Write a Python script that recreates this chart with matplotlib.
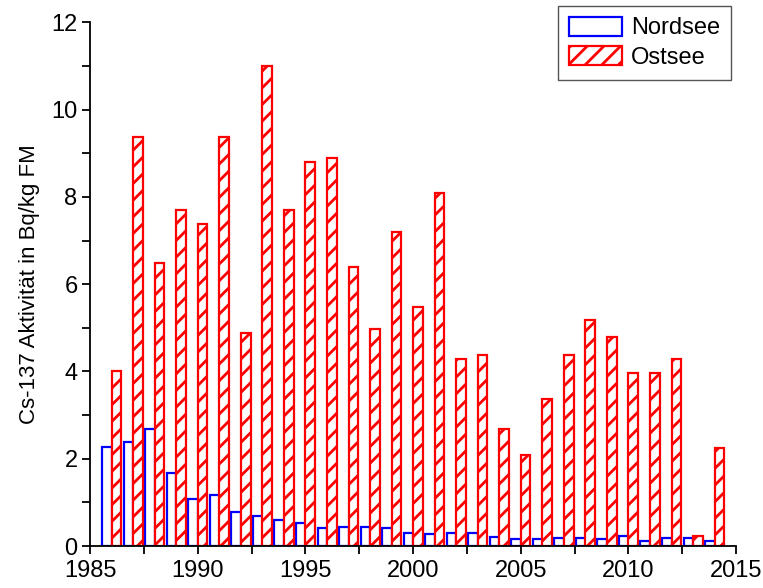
import numpy as np
import matplotlib
matplotlib.use('Agg')
import matplotlib.pyplot as plt

plt.rcParams['font.family'] = ['Liberation Sans', 'DejaVu Sans']
plt.rcParams['hatch.linewidth'] = 2.0

years = np.arange(1986, 2015)
nordsee = [2.27, 2.38, 2.68, 1.67, 1.08, 1.17, 0.78, 0.69, 0.59, 0.53,
           0.41, 0.43, 0.43, 0.41, 0.30, 0.27, 0.29, 0.29, 0.20, 0.15,
           0.15, 0.18, 0.18, 0.15, 0.23, 0.11, 0.19, 0.18, 0.12]
ostsee = [4.0, 9.38, 6.48, 7.69, 7.39, 9.38, 4.89, 11.0, 7.69, 8.79,
          8.88, 6.39, 4.97, 7.19, 5.47, 8.1, 4.28, 4.37, 2.68, 2.08,
          3.38, 4.37, 5.18, 4.78, 3.97, 3.97, 4.28, 0.24, 2.25]

fig = plt.figure(figsize=(7.63, 5.88), dpi=100)
ax = fig.add_axes([0.118, 0.0714, 0.8466, 0.8906])

w = 0.45
ax.bar(years - 0.21, nordsee, width=w, facecolor='white', edgecolor='#0000ff',
       linewidth=1.6, label='Nordsee')
ax.bar(years + 0.23, ostsee, width=w, facecolor='white', edgecolor='#ff0000',
       linewidth=1.6, hatch='//', label='Ostsee')

ax.set_xlim(1985, 2015)
ax.set_ylim(0, 12)
ax.set_xticks(np.arange(1985, 2016, 5))
ax.set_xticks(np.arange(1987.5, 2015, 5), minor=True)
ax.set_yticks(np.arange(0, 13, 2))
ax.set_yticks(np.arange(1, 12, 2), minor=True)
ax.tick_params(which='both', direction='out', length=6, width=1.3, labelsize=17, colors='black')
ax.tick_params(axis='x', pad=4)
ax.tick_params(axis='y', pad=3)
for s in ['top', 'right']:
    ax.spines[s].set_visible(False)
for s in ['left', 'bottom']:
    ax.spines[s].set_linewidth(1.3)

ax.set_ylabel('Cs-137 Aktivität in Bq/kg FM', fontsize=16, labelpad=8)

leg = ax.legend(loc='upper right', bbox_to_anchor=(0.992, 1.031), fontsize=17, fancybox=False,
                edgecolor='#555555', framealpha=1, handlelength=2.25, handleheight=0.85,
                borderpad=0.45, labelspacing=0.3, handletextpad=0.4, borderaxespad=0)
leg.get_frame().set_linewidth(1.0)

fig.savefig('out.png', dpi=100)
